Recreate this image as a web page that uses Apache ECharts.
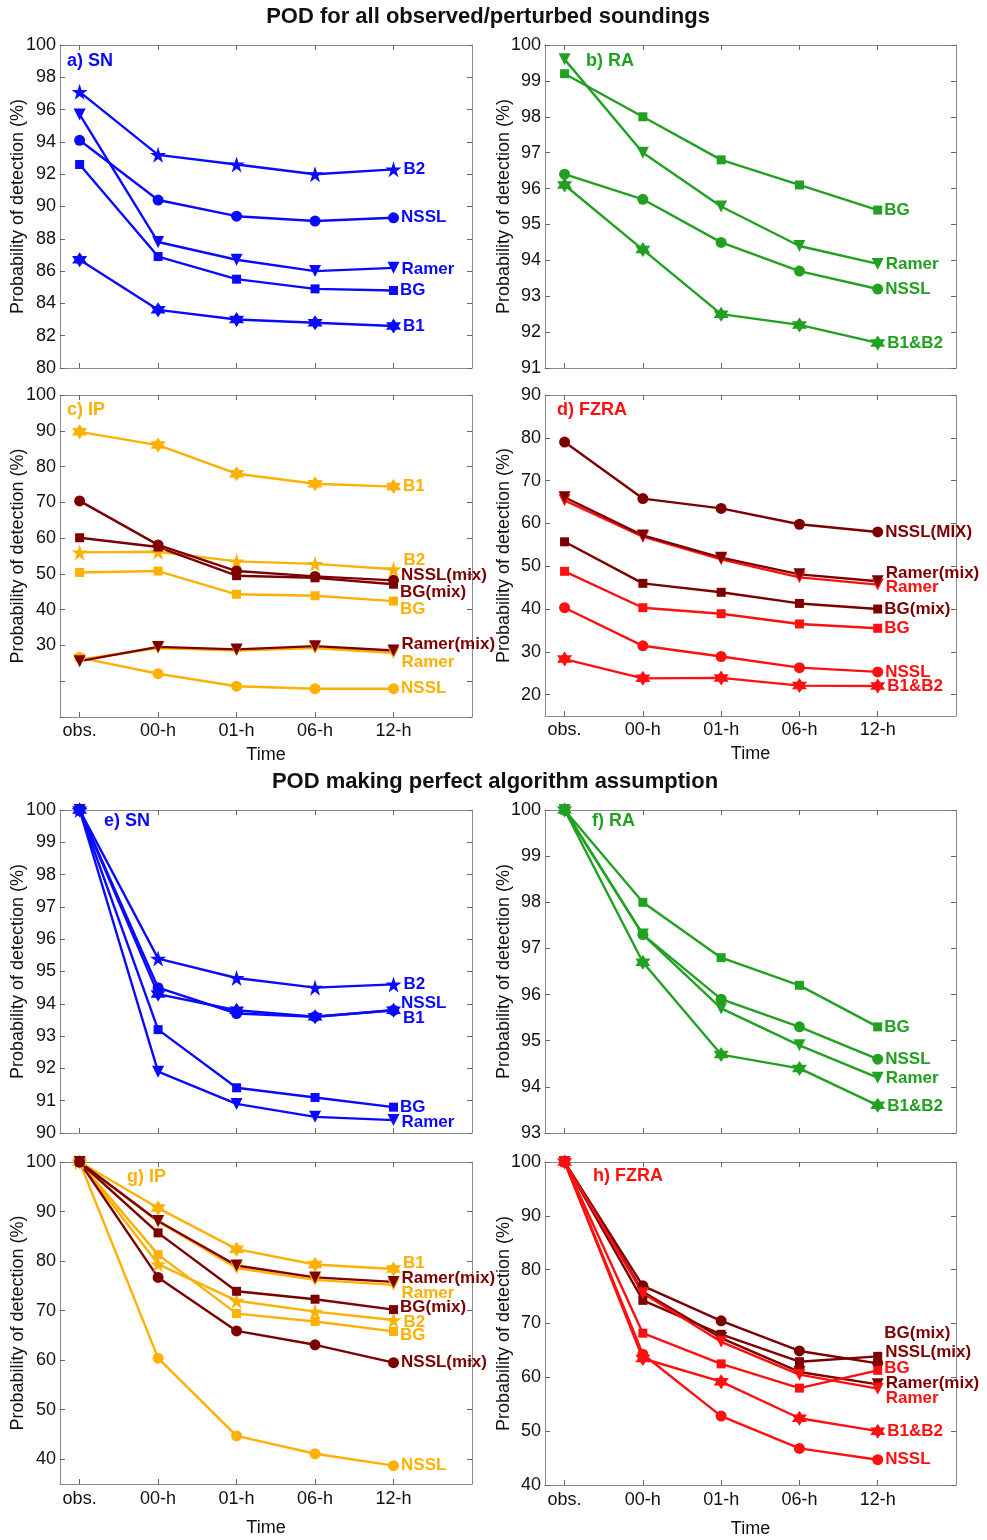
<!DOCTYPE html>
<html>
<head>
<meta charset="utf-8">
<script src="https://cdn.jsdelivr.net/npm/echarts@6/dist/echarts.min.js"></script>
<style>html,body{margin:0;padding:0;background:#fff}#c{width:987px;height:1540px}</style>
</head>
<body>
<div id="c"></div>
<script>
// ---------- tick labels ----------
const xTicks = ['obs.', '00-h', '01-h', '06-h', '12-h'];

// ---------- a) SN (all observed/perturbed) ----------
const aB2    = [97.1, 93.2, 92.6, 92.0, 92.3];
const aNSSL  = [94.1, 90.4, 89.4, 89.1, 89.3];
const aRamer = [95.7, 87.8, 86.7, 86.0, 86.2];
const aBG    = [92.6, 86.9, 85.5, 84.9, 84.8];
const aB1    = [86.7, 83.6, 83.0, 82.8, 82.6];
// ---------- b) RA ----------
const bBG    = [99.2, 98.0, 96.8, 96.1, 95.4];
const bRamer = [99.6, 97.0, 95.5, 94.4, 93.9];
const bNSSL  = [96.4, 95.7, 94.5, 93.7, 93.2];
const bB1B2  = [96.1, 94.3, 92.5, 92.2, 91.7];
// ---------- c) IP ----------
const cB1      = [89.7, 86.0, 78.0, 75.2, 74.4];
const cB2      = [56.0, 56.2, 53.5, 52.8, 51.3];
const cBG      = [50.4, 50.8, 44.3, 43.9, 42.4];
const cRamer   = [26.0, 29.3, 28.6, 29.3, 27.9];
const cNSSL    = [26.6, 22.1, 18.6, 17.9, 17.9];
const cNSSLmix = [70.4, 58.1, 50.8, 49.3, 48.2];
const cBGmix   = [60.1, 57.5, 49.5, 48.9, 47.1];
const cRamermix= [25.6, 29.6, 28.9, 29.8, 28.6];
// ---------- d) FZRA ----------
const dNSSLmix = [79.0, 65.8, 63.5, 59.8, 58.0];
const dRamermix= [66.1, 57.2, 52.0, 48.1, 46.5];
const dBGmix   = [55.7, 46.0, 43.9, 41.3, 40.0];
const dRamer   = [65.4, 56.9, 51.6, 47.4, 45.7];
const dBG      = [48.8, 40.3, 38.9, 36.5, 35.5];
const dNSSL    = [40.3, 31.4, 28.9, 26.3, 25.3];
const dB1B2    = [28.3, 23.8, 23.9, 22.1, 22.0];
// ---------- e) SN (perfect algorithm) ----------
const eB2    = [100, 95.4, 94.8, 94.5, 94.6];
const eNSSL  = [100, 94.5, 93.7, 93.6, 93.8];
const eB1    = [100, 94.3, 93.8, 93.6, 93.8];
const eBG    = [100, 93.2, 91.4, 91.1, 90.8];
const eRamer = [100, 91.9, 90.9, 90.5, 90.4];
// ---------- f) RA ----------
const fBG    = [100, 98.0, 96.8, 96.2, 95.3];
const fNSSL  = [100, 97.3, 95.9, 95.3, 94.6];
const fRamer = [100, 97.3, 95.7, 94.9, 94.2];
const fB1B2  = [100, 96.7, 94.7, 94.4, 93.6];
// ---------- g) IP ----------
const gB1      = [100, 90.7, 82.4, 79.3, 78.4];
const gRamer   = [100, 88.0, 78.6, 76.2, 75.2];
const gB2      = [100, 79.4, 72.0, 69.8, 68.1];
const gBG      = [100, 81.3, 69.4, 67.8, 65.8];
const gNSSL    = [100, 60.4, 44.7, 41.1, 38.7];
const gRamermix= [100, 88.1, 79.1, 76.7, 75.8];
const gBGmix   = [100, 85.7, 73.9, 72.3, 70.2];
const gNSSLmix = [100, 76.7, 65.9, 63.1, 59.5];
// ---------- h) FZRA ----------
const hNSSLmix = [100, 77.0, 70.5, 64.9, 62.6];
const hBGmix   = [100, 74.3, 68.0, 62.9, 63.9];
const hRamermix= [100, 75.9, 67.3, 61.0, 58.7];
const hRamer   = [100, 75.6, 66.6, 60.5, 57.9];
const hBG      = [100, 68.2, 62.5, 58.0, 61.3];
const hB1B2    = [100, 63.5, 59.2, 52.4, 50.0];
const hNSSL    = [100, 64.3, 52.8, 46.8, 44.7];

// ---------- styling ----------
const C = { blue: '#0a0aff', green: '#22a022', orange: '#ffb000', maroon: '#7d0000', red: '#ff1010' };
const PENT = 'path://M50,0 L61.8,35.4 L100,35.4 L69.1,57.3 L80.9,92.7 L50,70.8 L19.1,92.7 L30.9,57.3 L0,35.4 L38.2,35.4 Z';
const HEX = 'path://M50,0 L64.4,25 L93.3,25 L78.9,50 L93.3,75 L64.4,75 L50,100 L35.6,75 L6.7,75 L21.1,50 L6.7,25 L35.6,25 Z';
const SYM = {
  circle: { symbol: 'circle', size: 11, rot: 0 },
  square: { symbol: 'rect', size: 9, rot: 0 },
  tri:    { symbol: 'triangle', size: 12, rot: 180 },
  pent:   { symbol: PENT, size: 16, rot: 0 },
  hex:    { symbol: HEX, size: 15, rot: 0 }
};
const FONT = '"Liberation Sans", Arial, Helvetica, sans-serif';

// panel layout: grid rect, y scale, series list [data, color, marker, label, label dy]
const panels = [
  { id: 'a) SN', col: C.blue, lx: 67, ly: 61, g: [60, 45, 412, 323], y: [80, 100, 2], xl: false, yg: 33,
    s: [[aB2, C.blue, 'pent', 'B2', 0], [aNSSL, C.blue, 'circle', 'NSSL', 0], [aRamer, C.blue, 'tri', 'Ramer', 1],
        [aBG, C.blue, 'square', 'BG', 0], [aB1, C.blue, 'hex', 'B1', 0]] },
  { id: 'b) RA', col: C.green, lx: 586, ly: 61, g: [545, 45, 411, 323], y: [91, 100, 1], xl: false, yg: 32,
    s: [[bBG, C.green, 'square', 'BG', 0], [bRamer, C.green, 'tri', 'Ramer', 0], [bNSSL, C.green, 'circle', 'NSSL', 0],
        [bB1B2, C.green, 'hex', 'B1&B2', 0]] },
  { id: 'c) IP', col: C.orange, lx: 67, ly: 410, g: [60, 395, 412, 322], y: [10, 100, 10, 30], xl: true, ng: 29, lm: 5, yg: 33,
    s: [[cB1, C.orange, 'hex', 'B1', 0], [cB2, C.orange, 'pent', 'B2', -9], [cBG, C.orange, 'square', 'BG', 8],
        [cRamer, C.orange, 'tri', 'Ramer', 9], [cNSSL, C.orange, 'circle', 'NSSL', 0],
        [cNSSLmix, C.maroon, 'circle', 'NSSL(mix)', -5], [cBGmix, C.maroon, 'square', 'BG(mix)', 8],
        [cRamermix, C.maroon, 'tri', 'Ramer(mix)', -6]] },
  { id: 'd) FZRA', col: C.red, lx: 557, ly: 410, g: [545, 395, 411, 321], y: [15, 90, 10], xl: true, ng: 29, lm: 5, yg: 32,
    s: [[dRamer, C.red, 'tri', 'Ramer', 3], [dBG, C.red, 'square', 'BG', 0], [dNSSL, C.red, 'circle', 'NSSL', 0],
        [dB1B2, C.red, 'hex', 'B1&B2', 0],
        [dNSSLmix, C.maroon, 'circle', 'NSSL(MIX)', 0], [dRamermix, C.maroon, 'tri', 'Ramer(mix)', -8],
        [dBGmix, C.maroon, 'square', 'BG(mix)', 0]] },
  { id: 'e) SN', col: C.blue, lx: 104, ly: 821, g: [60, 810, 412, 323], y: [90, 100, 1], xl: false, yg: 33,
    s: [[eB2, C.blue, 'pent', 'B2', 0], [eNSSL, C.blue, 'circle', 'NSSL', -7], [eB1, C.blue, 'hex', 'B1', 8],
        [eBG, C.blue, 'square', 'BG', 0], [eRamer, C.blue, 'tri', 'Ramer', 2]] },
  { id: 'f) RA', col: C.green, lx: 592, ly: 821, g: [545, 810, 411, 323], y: [93, 100, 1], xl: false, yg: 32,
    s: [[fBG, C.green, 'square', 'BG', 0], [fNSSL, C.green, 'circle', 'NSSL', 0], [fRamer, C.green, 'tri', 'Ramer', 1],
        [fB1B2, C.green, 'hex', 'B1&B2', 1]] },
  { id: 'g) IP', col: C.orange, lx: 127, ly: 1177, g: [60, 1162, 412, 322], y: [35, 100, 10], xl: true, ng: 35, lm: 6, yg: 33,
    s: [[gB1, C.orange, 'hex', 'B1', -6], [gRamer, C.orange, 'tri', 'Ramer', 8], [gB2, C.orange, 'pent', 'B2', 2],
        [gBG, C.orange, 'square', 'BG', 4], [gNSSL, C.orange, 'circle', 'NSSL', 0],
        [gRamermix, C.maroon, 'tri', 'Ramer(mix)', -4], [gBGmix, C.maroon, 'square', 'BG(mix)', -2],
        [gNSSLmix, C.maroon, 'circle', 'NSSL(mix)', 0]] },
  { id: 'h) FZRA', col: C.red, lx: 593, ly: 1176, g: [545, 1162, 411, 323], y: [40, 100, 10], xl: true, ng: 35, lm: 6, yg: 32,
    s: [[hNSSLmix, C.maroon, 'circle', 'NSSL(mix)', -11], [hBGmix, C.maroon, 'square', 'BG(mix)', -23],
        [hRamermix, C.maroon, 'tri', 'Ramer(mix)', -1],
        [hRamer, C.red, 'tri', 'Ramer', 10], [hBG, C.red, 'square', 'BG', -2], [hB1B2, C.red, 'hex', 'B1&B2', 0],
        [hNSSL, C.red, 'circle', 'NSSL', 0]] }
];

const grid = [], xAxis = [], yAxis = [], series = [], graphic = [];
const AX = '#8a8a8a', TK = '#666', TXT = '#111';

function yTickValues(ymin, ymax, step) {
  const out = [];
  const start = Math.ceil(ymin / step) * step;
  for (let v = start; v <= ymax + 1e-9; v += step) out.push(+v.toFixed(6));
  return out;
}

panels.forEach((p, i) => {
  const [left, top, width, height] = p.g;
  grid.push({ left, top, width, height, outerBoundsMode: 'none', containLabel: false });
  const xVals = [0, 1, 2, 3, 4];
  const baseX = {
    type: 'value', gridIndex: i, min: -0.25, max: 5,
    axisLine: { show: true, onZero: false, lineStyle: { color: AX, width: 1 } },
    axisTick: { show: true, inside: true, length: 5, customValues: xVals, lineStyle: { color: TK } },
    splitLine: { show: false }
  };
  xAxis.push(Object.assign({}, baseX, {
    position: 'bottom',
    axisLabel: { show: p.xl, customValues: xVals, formatter: v => xTicks[Math.round(v)], color: TXT,
                 fontSize: 18, fontFamily: FONT, margin: p.lm || 5 },
    name: p.xl ? 'Time' : '', nameLocation: 'middle', nameGap: p.ng || 30, nameMoveOverlap: false,
    nameTextStyle: { color: TXT, fontSize: 18, fontFamily: FONT }
  }));
  xAxis.push(Object.assign({}, baseX, { position: 'top', axisLabel: { show: false } }));

  const [ymin, ymax, step, labMin] = p.y;
  const yVals = yTickValues(ymin, ymax, step);
  const baseY = {
    type: 'value', gridIndex: i, min: ymin, max: ymax,
    axisLine: { show: true, onZero: false, lineStyle: { color: AX, width: 1 } },
    axisTick: { show: true, inside: true, length: 5, customValues: yVals, lineStyle: { color: TK } },
    splitLine: { show: false }
  };
  yAxis.push(Object.assign({}, baseY, {
    position: 'left',
    axisLabel: { show: true, customValues: yVals, color: TXT, fontSize: 18, fontFamily: FONT, margin: 4,
                 formatter: v => (labMin !== undefined && v < labMin) ? '' : String(v) },
    name: 'Probability of detection (%)', nameLocation: 'middle', nameGap: p.yg, nameRotate: 90,
    nameMoveOverlap: false,
    nameTextStyle: { color: TXT, fontSize: 18, fontFamily: FONT }
  }));
  yAxis.push(Object.assign({}, baseY, { position: 'right', axisLabel: { show: false } }));

  p.s.forEach(([vals, color, mk, lab, dy]) => {
    const m = SYM[mk];
    series.push({
      type: 'line', xAxisIndex: 2 * i, yAxisIndex: 2 * i, clip: false,
      symbol: m.symbol, symbolSize: m.size, symbolRotate: m.rot, showSymbol: true,
      lineStyle: { color, width: 2.4 }, itemStyle: { color, borderWidth: 0 },
      emphasis: { disabled: true }, animation: false,
      data: vals.map((v, k) => k === vals.length - 1
        ? { value: [k, v], label: { show: true, position: 'right', distance: 2, offset: [0, dy], formatter: lab,
            color, fontSize: 17, fontWeight: 'bold', fontFamily: FONT } }
        : [k, v])
    });
  });

  graphic.push({ type: 'text', x: p.lx, y: p.ly, style: { text: p.id, fill: p.col, font: 'bold 18px ' + FONT,
    textAlign: 'left', textVerticalAlign: 'middle' }, z: 100 });
});

graphic.push({ type: 'text', x: 488, y: 17, style: { text: 'POD for all observed/perturbed soundings', fill: TXT,
  font: 'bold 22px ' + FONT, textAlign: 'center', textVerticalAlign: 'middle' } });
graphic.push({ type: 'text', x: 495, y: 782, style: { text: 'POD making perfect algorithm assumption', fill: TXT,
  font: 'bold 22px ' + FONT, textAlign: 'center', textVerticalAlign: 'middle' } });

const chart = echarts.init(document.getElementById('c'), null, { renderer: 'canvas' });
chart.setOption({ backgroundColor: '#fff', animation: false, grid, xAxis, yAxis, series, graphic });
</script>
</body>
</html>
